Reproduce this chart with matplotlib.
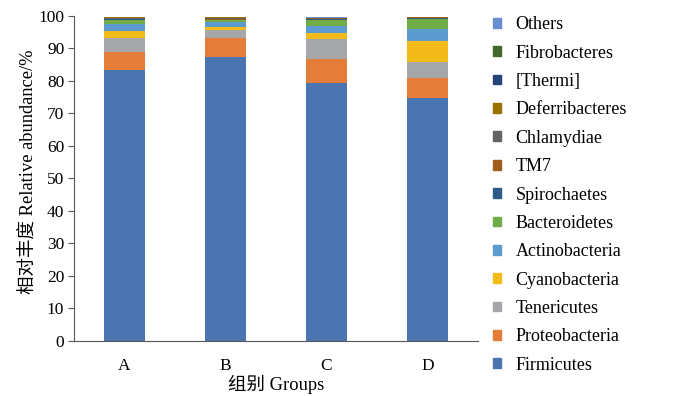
import matplotlib.pyplot as plt
import numpy as np
from matplotlib.patches import Patch

plt.rcParams['font.family'] = ['Liberation Serif', 'Noto Sans CJK SC']

groups = ['A', 'B', 'C', 'D']
phyla = ['Firmicutes', 'Proteobacteria', 'Tenericutes', 'Cyanobacteria',
         'Actinobacteria', 'Bacteroidetes', 'Spirochaetes', 'TM7',
         'Chlamydiae', 'Deferribacteres', '[Thermi]', 'Fibrobacteres', 'Others']

firmicutes = [83.3, 87.3, 79.3, 74.8]
proteobacteria = [5.5, 6.0, 7.4, 6.2]
tenericutes = [4.5, 2.5, 6.1, 4.8]
cyanobacteria = [2.1, 0.7, 1.9, 6.6]
actinobacteria = [2.1, 1.7, 2.2, 3.6]
bacteroidetes = [1.4, 0.5, 2.0, 3.0]
spirochaetes = [0.2, 0.2, 0.3, 0.5]
tm7 = [0.1, 0.3, 0.1, 0.05]
chlamydiae = [0.3, 0.2, 0.1, 0.05]
deferribacteres = [0.05, 0.2, 0.05, 0.02]
thermi = [0.02, 0.02, 0.05, 0.05]
fibrobacteres = [0.02, 0.02, 0.02, 0.02]
others = [0.05, 0.05, 0.05, 0.05]

values = [firmicutes, proteobacteria, tenericutes, cyanobacteria, actinobacteria,
          bacteroidetes, spirochaetes, tm7, chlamydiae, deferribacteres,
          thermi, fibrobacteres, others]
colors = ['#4A75B0', '#E47D39', '#A5A7AA', '#F2BB1A', '#5B9BD0', '#70AD47',
          '#2E5A87', '#9E5E1A', '#636363', '#997300', '#264478', '#43682B', '#698ED0']

fig = plt.figure(figsize=(7, 3.96), dpi=100)
ax = fig.add_axes([0.1057, 0.139, 0.577, 0.8206])

x = np.arange(len(groups)) + 0.5
bottom = np.zeros(len(groups))
for name, vals, c in zip(phyla, values, colors):
    ax.bar(x, vals, width=0.41, bottom=bottom, color=c, label=name, linewidth=0)
    bottom += np.array(vals)

ax.set_xlim(0, 4)
ax.set_ylim(0, 100)
ax.set_yticks(range(0, 101, 10))
ax.set_xticks(x)
ax.set_xticklabels(groups)
ax.tick_params(axis='x', length=0, pad=12, labelsize=12.5)
ax.tick_params(axis='y', direction='out', length=4, color='#595959', labelsize=12.5, pad=3)
for s in ['top', 'right']:
    ax.spines[s].set_visible(False)
for s in ['left', 'bottom']:
    ax.spines[s].set_color('#595959')

ax.set_ylabel('相对丰度 Relative abundance/%', fontsize=13.3, labelpad=5)
ax.yaxis.set_label_coords(-0.09, 0.52)
ax.set_xlabel('组别 Groups', fontsize=13.3, labelpad=1)

handles = [Patch(color=c) for c in colors][::-1]
labels = phyla[::-1]
fig.legend(handles, labels, loc='upper left', bbox_to_anchor=(0.681, 1.0),
           frameon=False, fontsize=13, handlelength=0.45, handleheight=0.45,
           handletextpad=0.8, labelspacing=0.63)

fig.savefig('out.png', dpi=100)
